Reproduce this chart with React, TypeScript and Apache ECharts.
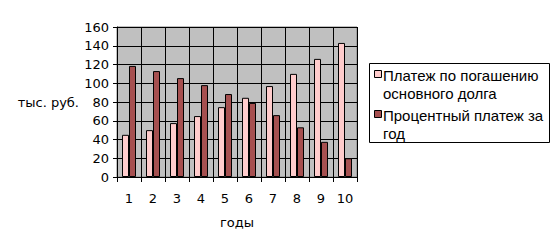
import React, { useEffect, useRef } from "react";
import * as echarts from "echarts";

const years = ["1", "2", "3", "4", "5", "6", "7", "8", "9", "10"];
const principal = [45, 50, 57.5, 65, 74.5, 84.5, 97, 110, 126, 143];
const interest = [118.5, 113, 105.5, 98, 88.5, 79, 66, 53, 37.5, 20];
const seriesNames = ["Платеж по погашению\nосновного долга", "Процентный платеж за\nгод"];
const colors = ["#FFCCCC", "#A65050"];

export default function App() {
  const ref = useRef<HTMLDivElement>(null);
  useEffect(() => {
    document.body.style.margin = "0";
    const chart = echarts.init(ref.current!, null, { renderer: "svg" });
    const font = "DejaVu Sans";
    const lfont = "Liberation Sans";
    chart.setOption({
      animation: false,
      textStyle: { fontFamily: font },
      grid: {
        left: 117, top: 27, width: 240, height: 150,
        show: true, backgroundColor: "#C0C0C0", borderColor: "#808080", borderWidth: 1,
      },
      xAxis: {
        type: "category",
        data: years,
        name: "годы",
        nameLocation: "middle",
        nameGap: 39,
        nameTextStyle: { color: "#000", fontSize: 13, fontFamily: font },
        axisLine: { lineStyle: { color: "#000", width: 1 } },
        axisTick: { show: true, length: 5, lineStyle: { color: "#000" } },
        axisLabel: { color: "#000", fontSize: 13, margin: 15, fontFamily: font },
        splitLine: { show: true, lineStyle: { color: "#000", width: 1 } },
      },
      yAxis: {
        type: "value",
        min: 0, max: 160, interval: 20,
        name: "тыс. руб.",
        nameLocation: "middle",
        nameRotate: 0,
        nameGap: 38,
        nameTextStyle: { color: "#000", fontSize: 13, fontFamily: font, align: "right" },
        axisLine: { show: true, lineStyle: { color: "#000", width: 1 } },
        axisTick: { show: true, length: 4, lineStyle: { color: "#000" } },
        axisLabel: { color: "#000", fontSize: 13, margin: 8, fontFamily: font },
        splitLine: { show: true, lineStyle: { color: "#000", width: 1 } },
      },
      series: [
        {
          type: "bar", name: seriesNames[0], data: principal, barWidth: 7, barGap: "0%",
          itemStyle: { color: colors[0], borderColor: "#000", borderWidth: 1 },
        },
        {
          type: "bar", name: seriesNames[1], data: interest, barWidth: 7, barGap: "0%",
          itemStyle: { color: colors[1], borderColor: "#000", borderWidth: 1 },
        },
      ],
      graphic: [
        { type: "rect", shape: { x: 369.5, y: 63.5, width: 180, height: 79 }, style: { fill: "#fff", stroke: "#000", lineWidth: 1 } },
        { type: "rect", shape: { x: 374.5, y: 70.5, width: 7, height: 7 }, style: { fill: colors[0], stroke: "#000", lineWidth: 1 } },
        { type: "text", x: 383, y: 66, style: { text: seriesNames[0], fill: "#000", fontSize: 15, fontFamily: lfont, lineHeight: 18 } },
        { type: "rect", shape: { x: 374.5, y: 110.5, width: 7, height: 7 }, style: { fill: colors[1], stroke: "#000", lineWidth: 1 } },
        { type: "text", x: 383, y: 106, style: { text: seriesNames[1], fill: "#000", fontSize: 15, fontFamily: lfont, lineHeight: 18 } },
      ],
    });
    return () => chart.dispose();
  }, []);
  return <div ref={ref} style={{ width: 558, height: 250 }} />;
}
